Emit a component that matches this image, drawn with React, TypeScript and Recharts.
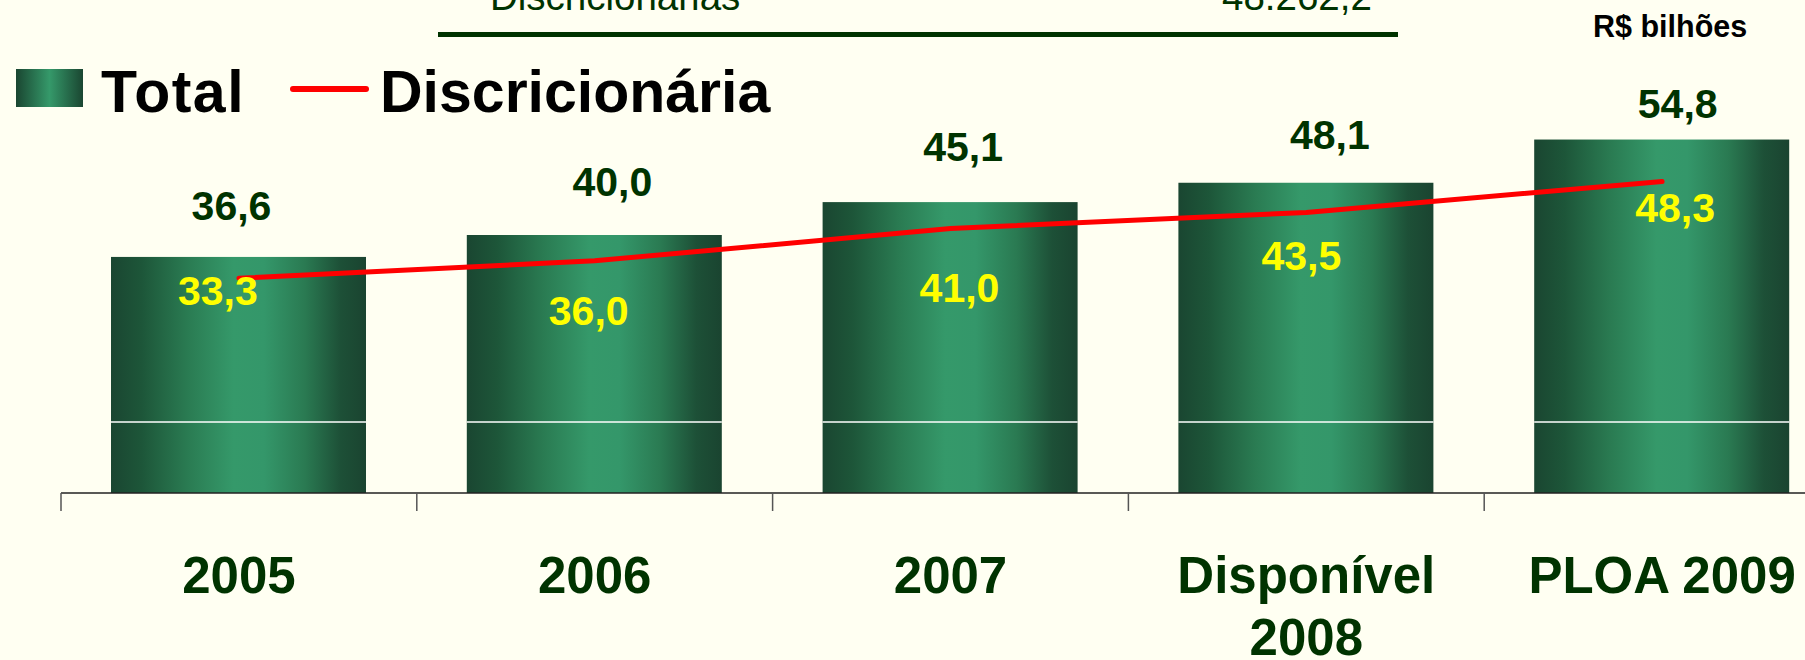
import { ComposedChart, Bar, Line, XAxis, YAxis, LabelList, Legend } from 'recharts'

const categories = ['2005', '2006', '2007', 'Disponível\n2008', 'PLOA 2009']
const totalValues = [36.6, 40.0, 45.1, 48.1, 54.8]
const discValues = [33.3, 36.0, 41.0, 43.5, 48.3]
const bandLineValue = 11.0 // thin white line across every bar
const headerLabel = 'Discricionárias'
const headerValue = '48.262,2'
const unitLabel = 'R$ bilhões'

// manual label nudges, as in the original slide (px)
const totalLabelDx = [-7, 18, 13, 24, 16]
const totalLabelLift = [37, 39, 41, 34, 22]
const discLabelDx = [-21, -6, 9, -5, 13]
const discLabelDrop = [27, 64, 73, 58, 41]

const data = categories.map((c, i) => ({
  name: c,
  total: totalValues[i],
  disc: discValues[i],
}))

const W = 1840
const H = 660
const M = { top: 106, right: 0, bottom: 0, left: 61 }
const BAND = (W - M.left - M.right) / categories.length
const FONT = "'Liberation Sans', Arial, sans-serif"
const DARK = '#003300'
const BG = '#FFFFF2'

const fmt = (v: number) => v.toFixed(1).replace('.', ',')

const BarShape = (p: any) => {
  const { x, y, width, height, payload } = p
  const ly = y + height - (height * bandLineValue) / payload.total
  return (
    <g>
      <rect x={x} y={y} width={width} height={height} fill="url(#barGrad)" />
      <line x1={x} x2={x + width} y1={ly} y2={ly} stroke="#ffffff" strokeWidth={1.5} />
    </g>
  )
}

const CategoryTick = (p: any) => {
  const { x, y, payload } = p
  const lines = String(payload.value).split('\n')
  const bx = x - BAND / 2
  return (
    <g>
      <line x1={bx} x2={bx} y1={y} y2={y + 18} stroke="#555" strokeWidth={1.5} />
      <text textAnchor="middle" fill={DARK} fontSize={51} fontWeight="bold" fontFamily={FONT}>
        {lines.map((l, i) => (
          <tspan key={i} x={x} y={y + 100 + i * 62}>
            {l}
          </tspan>
        ))}
      </text>
    </g>
  )
}

const TotalLabel = (p: any) => {
  const { x, y, width, index, value } = p
  return (
    <text
      x={x + width / 2 + totalLabelDx[index]}
      y={y - totalLabelLift[index]}
      textAnchor="middle"
      fill={DARK}
      fontSize={41}
      fontWeight="bold"
      fontFamily={FONT}
    >
      {fmt(Number(value))}
    </text>
  )
}

const DiscLabel = (p: any) => {
  const { x, y, index, value } = p
  return (
    <text
      x={x + discLabelDx[index]}
      y={y + discLabelDrop[index]}
      textAnchor="middle"
      fill="#FFFF00"
      fontSize={41}
      fontWeight="bold"
      fontFamily={FONT}
    >
      {fmt(Number(value))}
    </text>
  )
}

const LegendBox = (p: any) => {
  const items = p.payload || []
  const bar = items.find((it: any) => it.dataKey === 'total')
  const line = items.find((it: any) => it.dataKey === 'disc')
  return (
    <svg width={800} height={130}>
      <defs>
        <linearGradient id="legGrad" x1="0" y1="0" x2="1" y2="0">
          <stop offset="0%" stopColor="#1A4631" />
          <stop offset="50%" stopColor="#35996A" />
          <stop offset="100%" stopColor="#1A4631" />
        </linearGradient>
      </defs>
      <rect x={16} y={69} width={67} height={38} fill="url(#legGrad)" />
      <text x={101} y={112} fontSize={59} fontWeight="bold" fontFamily={FONT} fill="#000" letterSpacing={1.5}>
        {bar ? bar.value : 'Total'}
      </text>
      <line x1={293} x2={366} y1={89} y2={89} stroke="#FF0000" strokeWidth={6} strokeLinecap="round" />
      <text x={380} y={112} fontSize={59} fontWeight="bold" fontFamily={FONT} fill="#000">
        {line ? line.value : 'Discricionária'}
      </text>
    </svg>
  )
}

export default function App() {
  return (
    <div
      style={{
        position: 'absolute',
        left: 0,
        top: 0,
        width: 1805,
        height: 660,
        overflow: 'hidden',
        background: BG,
      }}
    >
      <svg width={1805} height={60} style={{ position: 'absolute', left: 0, top: 0 }}>
        <text x={490} y={10} fontSize={38.5} fontFamily={FONT} fill={DARK}>
          {headerLabel}
        </text>
        <text x={1222} y={10} fontSize={38.5} fontFamily={FONT} fill={DARK}>
          {headerValue}
        </text>
        <line x1={438} x2={1398} y1={34.5} y2={34.5} stroke={DARK} strokeWidth={5} />
        <text x={1593} y={37} fontSize={30.5} fontWeight="bold" fontFamily={FONT} fill="#000">
          {unitLabel}
        </text>
      </svg>
      <ComposedChart width={W} height={H} data={data} margin={M}>
        <defs>
          <linearGradient id="barGrad" x1="0" y1="0" x2="1" y2="0">
            <stop offset="0%" stopColor="#1A4631" />
            <stop offset="12%" stopColor="#1D5639" />
            <stop offset="30%" stopColor="#2A7B52" />
            <stop offset="48%" stopColor="#35996A" />
            <stop offset="60%" stopColor="#34976A" />
            <stop offset="76%" stopColor="#2A7A52" />
            <stop offset="90%" stopColor="#1D5037" />
            <stop offset="100%" stopColor="#1A4430" />
          </linearGradient>
        </defs>
        <XAxis
          dataKey="name"
          interval={0}
          height={H - 493}
          tickSize={0}
          tickMargin={0}
          tickLine={false}
          axisLine={{ stroke: '#222', strokeWidth: 1.5 }}
          tick={<CategoryTick />}
        />
        <YAxis hide domain={[0, 60]} />
        <Legend
          layout="vertical"
          align="center"
          verticalAlign="middle"
          wrapperStyle={{ position: 'absolute', left: 0, top: 0, width: 800, height: 130 }}
          content={<LegendBox />}
        />
        <Bar
          dataKey="total"
          name="Total"
          barSize={255}
          legendType="rect"
          shape={<BarShape />}
          isAnimationActive={false}
        >
          <LabelList dataKey="total" content={<TotalLabel />} />
        </Bar>
        <Line
          dataKey="disc"
          name="Discricionária"
          type="linear"
          stroke="#FF0000"
          strokeWidth={5}
          strokeLinecap="round"
          dot={false}
          legendType="line"
          isAnimationActive={false}
        >
          <LabelList dataKey="disc" content={<DiscLabel />} />
        </Line>
      </ComposedChart>
    </div>
  )
}
